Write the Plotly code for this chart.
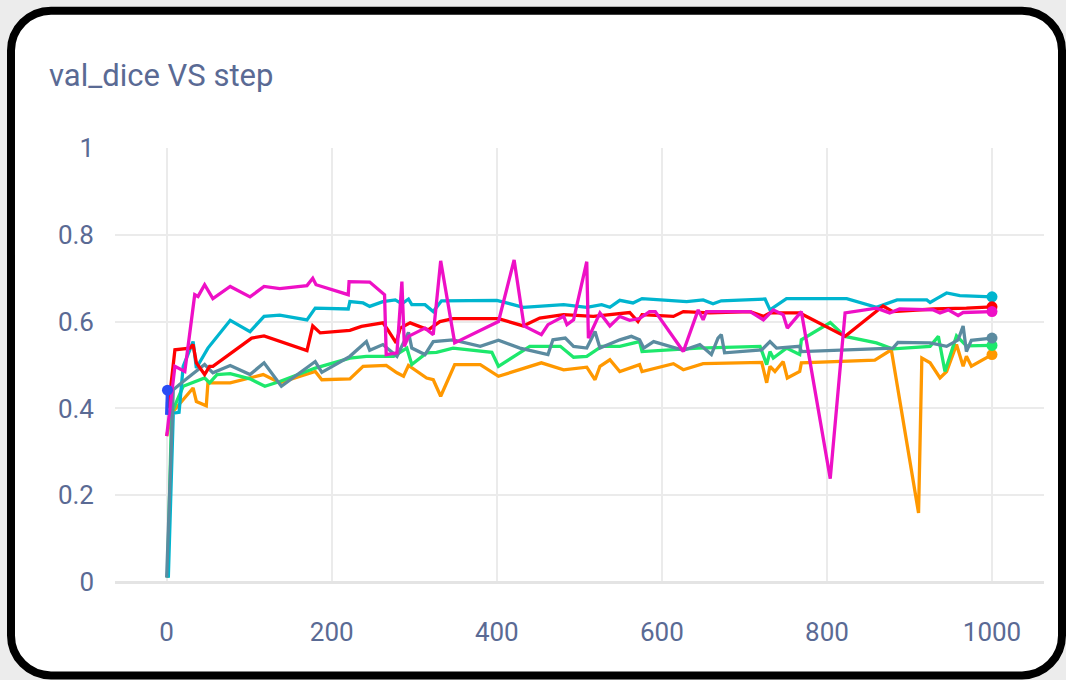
import plotly.graph_objects as go

# run curves (step, val_dice)
magenta_x = [0, 10, 22, 34, 38, 46, 56, 77, 101, 118,
             137, 170, 177, 181, 220, 221, 246, 250, 264, 266,
             279, 285, 288, 293, 313, 323, 332, 349, 402, 421,
             433, 454, 462, 481, 485, 493, 509, 511, 525, 537,
             549, 561, 573, 585, 592, 626, 644, 650, 654, 707,
             723, 735, 747, 752, 769, 804, 822, 860, 876, 888,
             929, 937, 947, 959, 965, 1000]
magenta_y = [0.336, 0.497, 0.485, 0.662, 0.658, 0.685, 0.653, 0.681, 0.657, 0.681,
             0.676, 0.683, 0.700, 0.685, 0.662, 0.692, 0.691, 0.685, 0.662, 0.524,
             0.528, 0.692, 0.543, 0.566, 0.585, 0.570, 0.740, 0.551, 0.600, 0.742,
             0.590, 0.570, 0.593, 0.612, 0.593, 0.604, 0.738, 0.562, 0.620, 0.590,
             0.612, 0.603, 0.607, 0.623, 0.623, 0.531, 0.627, 0.604, 0.623, 0.623,
             0.604, 0.627, 0.616, 0.585, 0.623, 0.238, 0.620, 0.631, 0.620, 0.629,
             0.627, 0.620, 0.627, 0.614, 0.621, 0.623]

red_x = [2, 10, 28, 32, 36, 46, 52, 56, 103, 118,
         170, 177, 186, 222, 236, 250, 262, 268, 278, 283,
         295, 317, 331, 347, 402, 432, 452, 481, 517, 561,
         571, 576, 614, 626, 658, 707, 723, 731, 767, 822,
         868, 880, 929, 969, 1000]
red_y = [0.400, 0.535, 0.539, 0.547, 0.505, 0.478, 0.497, 0.497, 0.562, 0.567,
         0.533, 0.590, 0.574, 0.580, 0.589, 0.593, 0.597, 0.581, 0.551, 0.585,
         0.597, 0.581, 0.600, 0.607, 0.607, 0.590, 0.608, 0.616, 0.612, 0.621,
         0.600, 0.616, 0.612, 0.623, 0.620, 0.623, 0.612, 0.620, 0.620, 0.566,
         0.636, 0.623, 0.629, 0.631, 0.634]

cyan_x = [2, 8, 15, 20, 32, 36, 50, 77, 101, 118,
          137, 170, 180, 220, 222, 238, 246, 262, 277, 285,
          293, 297, 313, 323, 333, 400, 432, 481, 509, 527,
          537, 549, 565, 576, 630, 650, 662, 672, 725, 731,
          751, 824, 860, 885, 921, 925, 933, 945, 961, 1000]
cyan_y = [0.010, 0.389, 0.391, 0.497, 0.554, 0.493, 0.539, 0.603, 0.577, 0.612,
          0.615, 0.604, 0.631, 0.629, 0.646, 0.643, 0.635, 0.646, 0.650, 0.641,
          0.652, 0.639, 0.639, 0.623, 0.648, 0.649, 0.633, 0.639, 0.633, 0.639,
          0.633, 0.649, 0.643, 0.653, 0.646, 0.650, 0.641, 0.648, 0.652, 0.627,
          0.653, 0.653, 0.633, 0.650, 0.650, 0.644, 0.653, 0.666, 0.660, 0.657]

slate_x = [0, 8, 20, 46, 56, 77, 101, 118, 139, 180,
           188, 222, 242, 246, 262, 279, 293, 297, 313, 323,
           347, 380, 402, 428, 462, 468, 483, 493, 509, 519,
           525, 549, 563, 573, 578, 590, 626, 646, 660, 668,
           672, 676, 721, 731, 739, 767, 769, 880, 886, 925,
           945, 959, 965, 969, 975, 1000]
slate_y = [0.010, 0.443, 0.462, 0.501, 0.482, 0.499, 0.478, 0.505, 0.451, 0.508,
           0.483, 0.520, 0.554, 0.534, 0.547, 0.520, 0.575, 0.539, 0.524, 0.554,
           0.558, 0.543, 0.557, 0.539, 0.524, 0.558, 0.562, 0.543, 0.539, 0.577,
           0.539, 0.558, 0.566, 0.558, 0.539, 0.554, 0.534, 0.547, 0.524, 0.562,
           0.570, 0.528, 0.535, 0.554, 0.539, 0.543, 0.531, 0.539, 0.552, 0.551,
           0.543, 0.558, 0.590, 0.531, 0.557, 0.562]

green_x = [1, 6, 20, 34, 46, 52, 61, 77, 101, 119,
           137, 180, 222, 242, 275, 291, 297, 315, 327, 347,
           380, 394, 402, 440, 477, 493, 509, 527, 549, 573,
           576, 630, 644, 719, 727, 731, 735, 751, 767, 769,
           804, 822, 860, 880, 925, 935, 943, 957, 969, 1000]
green_y = [0.010, 0.389, 0.451, 0.462, 0.470, 0.459, 0.478, 0.480, 0.468, 0.451,
           0.462, 0.493, 0.516, 0.520, 0.520, 0.539, 0.501, 0.528, 0.529, 0.539,
           0.531, 0.529, 0.497, 0.543, 0.543, 0.518, 0.520, 0.543, 0.543, 0.554,
           0.531, 0.536, 0.539, 0.543, 0.501, 0.531, 0.516, 0.539, 0.524, 0.558,
           0.598, 0.566, 0.551, 0.537, 0.543, 0.566, 0.485, 0.567, 0.544, 0.545]

orange_x = [0, 6, 32, 36, 48, 50, 77, 101, 117, 137,
            170, 180, 188, 222, 238, 266, 279, 287, 293, 315,
            323, 332, 349, 380, 402, 436, 454, 481, 509, 519,
            525, 537, 549, 573, 576, 614, 626, 650, 707, 721,
            727, 731, 737, 747, 752, 767, 769, 858, 878, 911,
            915, 925, 937, 945, 957, 965, 969, 975, 1000]
orange_y = [0.336, 0.389, 0.447, 0.416, 0.406, 0.459, 0.459, 0.470, 0.478, 0.459,
            0.478, 0.485, 0.466, 0.468, 0.497, 0.499, 0.482, 0.474, 0.499, 0.470,
            0.466, 0.428, 0.501, 0.501, 0.474, 0.493, 0.505, 0.489, 0.495, 0.466,
            0.497, 0.512, 0.485, 0.501, 0.485, 0.503, 0.489, 0.503, 0.506, 0.506,
            0.459, 0.497, 0.485, 0.508, 0.470, 0.485, 0.505, 0.511, 0.535, 0.159,
            0.516, 0.505, 0.470, 0.485, 0.547, 0.497, 0.520, 0.497, 0.524]

blue_x = [0, 1]
blue_y = [0.385, 0.442]

runs = [
    (orange_x, orange_y, '#ff9800'),
    (green_x, green_y, '#1de86c'),
    (cyan_x, cyan_y, '#00b5cf'),
    (slate_x, slate_y, '#5b8ba0'),
    (red_x, red_y, '#ff0000'),
    (magenta_x, magenta_y, '#ee10c6'),
    (blue_x, blue_y, '#2a4cf5'),
]

TEXT = '#5a6a94'
W, H = 1066, 680
L, R, T, B = 115, 22, 148, 97.5

fig = go.Figure()
for xs, ys, col in runs:
    fig.add_trace(go.Scatter(x=xs, y=ys, mode='lines', line=dict(color=col, width=3.3),
                             showlegend=False, hoverinfo='skip'))
    # dot on the latest point of each run
    fig.add_trace(go.Scatter(x=[xs[-1]], y=[ys[-1]], mode='markers',
                             marker=dict(color=col, size=11), showlegend=False))

# rounded black card behind the plot (pixel geometry -> paper coords)
pw, ph = W - L - R, H - T - B
def px(v): return (v - L) / pw
def py(v): return (H - B - v) / ph

x0, y0, x1, y1, r, k = 11, 10.5, 1062, 676, 40, 0.5523
card = (
    f"M {px(x0 + r)},{py(y0)} L {px(x1 - r)},{py(y0)} "
    f"C {px(x1 - r + k * r)},{py(y0)} {px(x1)},{py(y0 + r - k * r)} {px(x1)},{py(y0 + r)} "
    f"L {px(x1)},{py(y1 - r)} "
    f"C {px(x1)},{py(y1 - r + k * r)} {px(x1 - r + k * r)},{py(y1)} {px(x1 - r)},{py(y1)} "
    f"L {px(x0 + r)},{py(y1)} "
    f"C {px(x0 + r - k * r)},{py(y1)} {px(x0)},{py(y1 - r + k * r)} {px(x0)},{py(y1 - r)} "
    f"L {px(x0)},{py(y0 + r)} "
    f"C {px(x0)},{py(y0 + r - k * r)} {px(x0 + r - k * r)},{py(y0)} {px(x0 + r)},{py(y0)} Z"
)
fig.add_shape(type='path', path=card, xref='paper', yref='paper', layer='below',
              fillcolor='white', line=dict(color='black', width=8))

fig.update_layout(
    width=W, height=H,
    paper_bgcolor='#ececec', plot_bgcolor='white',
    margin=dict(l=L, r=R, t=T, b=B),
    font=dict(family='Roboto', color=TEXT),
    title=dict(text='val_dice VS step', font=dict(family='Roboto', size=31, color=TEXT),
               x=49 / W, xanchor='left', xref='container',
               y=1 - 64 / H, yanchor='top', yref='container'),
    xaxis=dict(range=[-62.6, 1063], tick0=0, dtick=200, showgrid=True, gridcolor='#ebebeb',
               gridwidth=1.8, zeroline=False, showline=False, ticks='',
               tickfont=dict(size=26, color=TEXT), ticklabelstandoff=32),
    yaxis=dict(range=[0, 1], tick0=0, dtick=0.2, showgrid=True, gridcolor='#ebebeb',
               gridwidth=1.8, zeroline=True, zerolinecolor='#e4e4e4', zerolinewidth=2.5,
               showline=False, ticks='', tickfont=dict(size=26, color=TEXT),
               ticklabelstandoff=20),
)

# figure sits flush with the window edges, no toolbar
fig.write_html("out.html", config={'displayModeBar': False},
               post_script="document.body.style.margin='0';")
